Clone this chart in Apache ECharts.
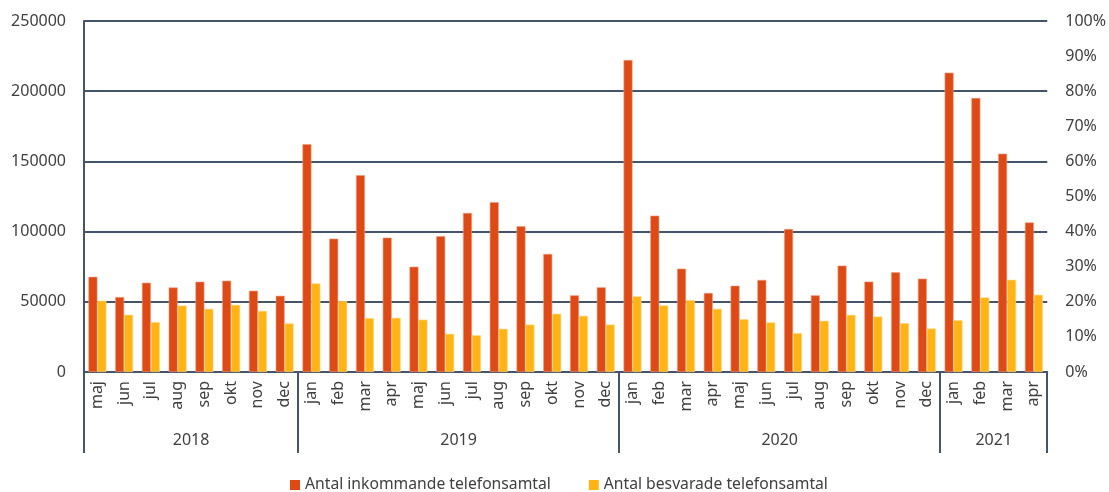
<!DOCTYPE html>
<html><head><meta charset="utf-8">
<script src="https://cdn.jsdelivr.net/npm/echarts@6/dist/echarts.min.js"></script>
<style>html,body{margin:0;padding:0;background:#fff}#c{width:1109px;height:492px}</style>
</head><body><div id="c"></div>
<script>
const months = ['maj','jun','jul','aug','sep','okt','nov','dec',
  'jan','feb','mar','apr','maj','jun','jul','aug','sep','okt','nov','dec',
  'jan','feb','mar','apr','maj','jun','jul','aug','sep','okt','nov','dec',
  'jan','feb','mar','apr'];
const years = ['2018','2019','2020','2021'];
const yearMonthCounts = [8,12,12,4];
const incoming = [67800,53400,63600,60200,64300,65000,57900,54300,
  162300,95000,140200,95700,75000,96800,113300,121000,103800,84100,54600,60300,
  222200,111400,73600,56300,61500,65600,101800,54600,75800,64400,71000,66500,
  213200,195200,155500,106500];
const answered = [50800,40800,35500,47300,45000,47800,43500,34600,
  63100,50600,38400,38600,37300,27200,26200,30800,33800,41500,40000,33800,
  53900,47400,51200,45000,37600,35300,27700,36500,40700,39500,34800,31000,
  36900,53100,65700,55000];
const leftTicks = {min:0, max:250000, interval:50000};
const rightTicks = {min:0, max:1, interval:0.1};

const bounds = [0]; yearMonthCounts.forEach(n => bounds.push(bounds[bounds.length-1]+n));
const centers = yearMonthCounts.map((n,i) => bounds[i] + n/2);

const font = 'Noto Sans';
const txt = '#404040';
const lineCol = '#44546A';
const chart = echarts.init(document.getElementById('c'), null, {renderer:'canvas'});
chart.setOption({
  animation:false,
  textStyle:{fontFamily:font},
  grid:{left:84, right:59, top:21, bottom:120},
  legend:{top:472, left:285, itemWidth:10, itemHeight:10, itemGap:38, itemTextGap:5,
    icon:'rect', itemStyle:{borderWidth:0},
    textStyle:{fontFamily:font, fontSize:15.7, color:txt}},
  xAxis:[{
    type:'category', data:months, position:'bottom',
    axisLine:{show:true, lineStyle:{color:lineCol, width:2}},
    axisTick:{show:false},
    axisLabel:{rotate:90, margin:9, fontSize:16, color:txt, fontFamily:font, interval:0}
  },{
    type:'value', min:0, max:bounds[bounds.length-1], position:'bottom',
    axisLine:{show:false}, splitLine:{show:false},
    axisTick:{show:true, customValues:bounds, length:81, lineStyle:{color:lineCol, width:2}},
    axisLabel:{customValues:centers, margin:60, fontSize:16, color:txt, fontFamily:font,
      formatter:v => { const i = centers.indexOf(v); return i>=0 ? years[i] : ''; }}
  }],
  yAxis:[{
    type:'value', ...leftTicks,
    axisLine:{show:true, lineStyle:{color:lineCol, width:2}},
    axisTick:{show:false},
    splitLine:{show:true, lineStyle:{color:lineCol, width:2}},
    axisLabel:{margin:18, fontSize:16, color:txt, fontFamily:font, formatter:v => String(v)}
  },{
    type:'value', ...rightTicks, position:'right',
    axisLine:{show:false}, axisTick:{show:false}, splitLine:{show:false},
    axisLabel:{margin:18, fontSize:16, color:txt, fontFamily:font,
      formatter:v => Math.round(v*100)+'%'}
  }],
  series:[{
    name:'Antal inkommande telefonsamtal', type:'bar', data:incoming,
    xAxisIndex:0, yAxisIndex:0, barGap:'0%', barCategoryGap:'33%',
    itemStyle:{color:'#DE4A16', borderColor:'#F29A7A', borderWidth:0.6}
  },{
    name:'Antal besvarade telefonsamtal', type:'bar', data:answered,
    xAxisIndex:0, yAxisIndex:0, barGap:'0%', barCategoryGap:'33%',
    itemStyle:{color:'#FFB415', borderColor:'#FFD98A', borderWidth:0.6}
  }]
});
</script></body></html>
